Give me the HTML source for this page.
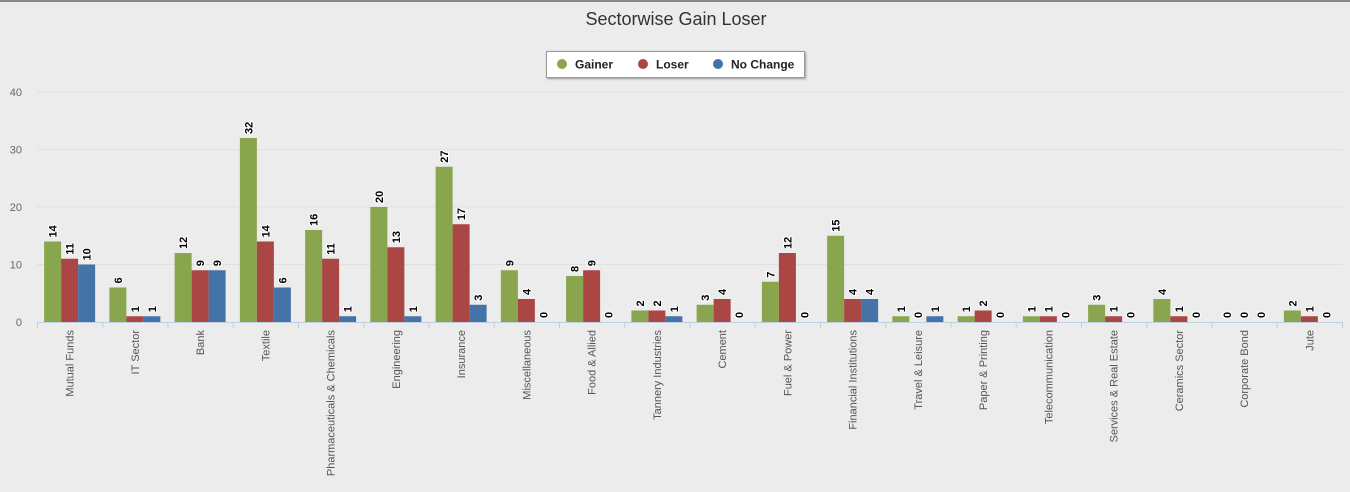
<!DOCTYPE html>
<html><head><meta charset="utf-8"><style>
body{margin:0;background:#ececec;width:1350px;height:487px;overflow:hidden;font-family:"Liberation Sans",sans-serif}
</style></head><body>
<svg width="1350" height="487" id="c" xmlns="http://www.w3.org/2000/svg">
<rect x="0" y="0" width="1350" height="487" fill="#ececec"/>
<line x1="0" y1="1" x2="1350" y2="1" stroke="#666" stroke-width="1.5"/>
<text x="676" y="25" text-anchor="middle" font-size="18" fill="#333">Sectorwise Gain Loser</text>
<g>
<rect x="546.5" y="51.5" width="258" height="26" fill="#fff" stroke="#999" style="filter:drop-shadow(1px 1px 1px #999)"/>
<g><circle cx="562" cy="64" r="5" fill="#89a54e"/><text x="575" y="68.5" font-size="12" font-weight="bold" fill="#222">Gainer</text></g>
<g><circle cx="643" cy="64" r="5" fill="#aa4643"/><text x="656" y="68.5" font-size="12" font-weight="bold" fill="#222">Loser</text></g>
<g><circle cx="718" cy="64" r="5" fill="#4572a7"/><text x="731" y="68.5" font-size="12" font-weight="bold" fill="#222">No Change</text></g>
</g>
<g id="grid"></g><g id="bars"></g><g id="labels"></g>
</svg>
<script>
const categories=["Mutual Funds","IT Sector","Bank","Textile","Pharmaceuticals & Chemicals","Engineering","Insurance","Miscellaneous","Food & Allied","Tannery Industries","Cement","Fuel & Power","Financial Institutions","Travel & Leisure","Paper & Printing","Telecommunication","Services & Real Estate","Ceramics Sector","Corporate Bond","Jute"];
const gainer=[14,6,12,32,16,20,27,9,8,2,3,7,15,1,1,1,3,4,0,2];
const loser=[11,1,9,14,11,13,17,4,9,2,4,12,4,0,2,1,1,1,0,1];
const noChange=[10,1,9,6,1,1,3,0,0,1,0,0,4,1,0,0,0,0,0,0];
const yTicks=[0,10,20,30,40];
const NS="http://www.w3.org/2000/svg";
const x0=37,x1=1342,y0=322,yMax=40,yTop=92;
const cw=(x1-x0)/categories.length;
function yS(v){return y0-(v/yMax)*(y0-yTop);}
function xS(i){return x0+i*cw;}
function mk(t,a,p){const e=document.createElementNS(NS,t);for(const k in a)e.setAttribute(k,a[k]);p.appendChild(e);return e;}
const grid=document.getElementById('grid'),bars=document.getElementById('bars'),labels=document.getElementById('labels');
yTicks.forEach(v=>{
  if(v>0){const l=mk('line',{x1:x0,x2:x1,y1:yS(v),y2:yS(v),stroke:'#e0e0e0'},grid);
  
  }
  const t=mk('text',{x:22,y:yS(v)+4,'text-anchor':'end','font-size':11,fill:'#666'},grid);
  t.textContent=v;
  
  
});
const ax=mk('line',{x1:x0,x2:x1,y1:y0+0.5,y2:y0+0.5,stroke:'#c0d0e0'},grid);


for(let i=0;i<=categories.length;i++){
  const tk=mk('line',{x1:xS(i)+0.5,x2:xS(i)+0.5,y1:y0,y2:y0+6,stroke:'#c0d0e0'},grid);
  
  
}
const series=[[gainer,'#89a54e','gainer'],[loser,'#aa4643','loser'],[noChange,'#4572a7','no-change']];
const bw=17,pad=(cw-3*bw)/2;
categories.forEach((c,i)=>{
  const cx=xS(i)+cw/2;
  const t=mk('text',{x:0,y:0,'text-anchor':'end','font-size':11,fill:'#555',transform:`translate(${cx+4},330) rotate(-90)`},labels);
  t.textContent=c;
  
  
  series.forEach(([arr,col,nm],s)=>{
    const bx=xS(i)+pad+s*bw,v=arr[i];
    const r=mk('rect',{x:bx,y:yS(v),width:bw,height:y0-yS(v),fill:col},bars);
    
    
    const lt=mk('text',{x:0,y:0,'font-size':11,'font-weight':'bold',fill:'#000',stroke:'#fff','stroke-width':2,'paint-order':'stroke',transform:`translate(${bx+bw/2+4},${yS(v)-4}) rotate(-90)`},labels);
    lt.textContent=v;
    
    
  });
});
</script>
</body></html>
